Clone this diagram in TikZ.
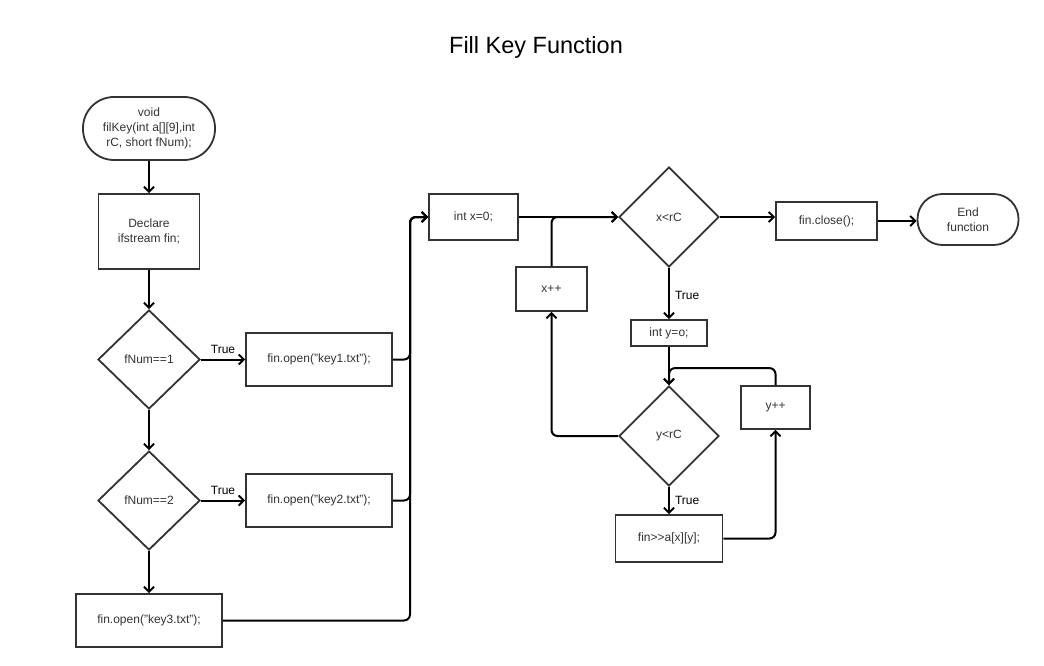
\documentclass[tikz,border=0pt]{standalone}
\usepackage{fontspec}
\setmainfont{Liberation Sans}
\usetikzlibrary{shapes.geometric,arrows.meta}
\definecolor{ink}{HTML}{333333}
\tikzset{
  base/.style={draw=ink, line width=1.8pt, text=ink, inner sep=0pt, align=center,
    font=\fontsize{12}{15}\selectfont},
  stepbox/.style={base, rectangle},
  term/.style={base, rectangle},
  dec/.style={base, diamond, minimum width=100pt, minimum height=100pt},
  arr/.style={draw=black, line width=2pt, rounded corners=6pt,
    -{Straight Barb[length=5pt,width=10pt,line width=2pt]}},
  lbl/.style={font=\fontsize{12}{15}\selectfont, text=black, inner sep=5pt},
}
\begin{document}
\begin{tikzpicture}[x=1pt,y=-1pt]
\useasboundingbox (0,0) rectangle (1044,666);
\fill[white] (0,0) rectangle (1044,666);
\node[font=\fontsize{23.5}{27}\selectfont, text=black] (title) at (536,47) {Fill Key Function};

\node[term, minimum width=132pt, minimum height=63pt, rounded corners=31pt] (start) at (149,128.5) {void\\filKey(int a[][9],int\\rC, short fNum);};
\node[stepbox, minimum width=101pt, minimum height=75pt] (decl) at (149,231.5) {Declare\\ifstream fin;};
\node[dec, minimum width=102pt, minimum height=99pt] (d1) at (149,359.5) {fNum==1};
\node[stepbox, minimum width=146pt, minimum height=53pt] (k1) at (319,359.5) {fin.open("key1.txt");};
\node[dec, minimum width=102pt, minimum height=99pt] (d2) at (149,500.5) {fNum==2};
\node[stepbox, minimum width=146pt, minimum height=53pt] (k2) at (319,500.5) {fin.open("key2.txt");};
\node[stepbox, minimum width=146pt, minimum height=53pt] (k3) at (149,620.5) {fin.open("key3.txt");};

\node[stepbox, minimum width=89pt, minimum height=46pt] (intx) at (473.5,217) {int x=0;};
\node[dec] (xlt) at (669,217) {x<rC};
\node[stepbox, minimum width=101pt, minimum height=38pt] (fc) at (826.5,221) {fin.close();};
\node[term, minimum width=101pt, minimum height=51pt, rounded corners=25pt] (fend) at (968,219.5) {End\\function};
\node[stepbox, minimum width=71pt, minimum height=44pt] (xinc) at (551.5,289) {x++};
\node[stepbox, minimum width=76pt, minimum height=26pt] (inty) at (669,333) {int y=o;};
\node[dec] (ylt) at (669,436) {y<rC};
\node[stepbox, minimum width=69pt, minimum height=43pt] (yinc) at (775.5,407.5) {y++};
\node[stepbox, minimum width=107pt, minimum height=47pt] (fin) at (669,538.5) {fin>{}>a[x][y];};

\coordinate (bus) at (410,0);

\draw[arr] (start) -- (decl);
\draw[arr] (decl) -- (d1);
\draw[arr] (d1) -- (d2);
\draw[arr] (d2) -- (k3);
\draw[arr] (d1) -- node[lbl, above] {True} (k1);
\draw[arr] (d2) -- node[lbl, above] {True} (k2);
\draw[arr] (k1.east) -- (k1.east -| bus) |- (intx.west);
\draw[arr] (k2.east) -- (k2.east -| bus) |- (intx.west);
\draw[arr] (k3.east) -- (k3.east -| bus) |- (intx.west);
\draw[arr] (intx) -- (xlt);
\draw[arr] (xinc.north) |- (xlt.west);
\draw[arr] (xlt.east) -- (xlt.east -| fc.west);
\draw[arr] (fc.east) -- (fc.east -| fend.west);
\draw[arr] (xlt.south) -- node[lbl, right, pos=0.53] {True} (inty.north);
\draw[arr] (inty) -- (ylt);
\draw[arr] (ylt.west) -| (xinc.south);
\draw[arr] (ylt.south) -- node[lbl, right, pos=0.5] {True} (fin.north);
\draw[arr] (fin.east) -| (yinc.south);
\draw[arr] (yinc.north) -- ++(0,-17) -| (ylt.north);
\end{tikzpicture}
\end{document}
